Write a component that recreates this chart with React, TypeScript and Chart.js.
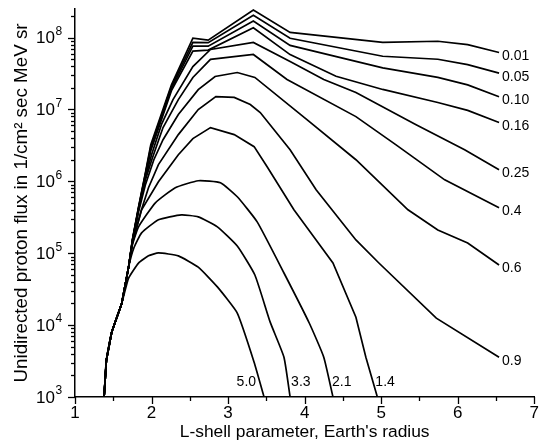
import React, { useEffect, useRef } from 'react';
import { Chart, registerables } from 'chart.js';

Chart.register(...registerables);

// L-shell values (Earth radii) and unidirected proton flux (1/cm^2 sec MeV sr) per energy curve (MeV)
const L_001 = [1.38, 1.41, 1.48, 1.61, 1.70, 1.75, 1.83, 1.92, 1.99, 2.26, 2.54, 2.74, 3.33, 3.81, 5.02, 5.74, 6.13, 6.54];
const F_001 = [1e3, 3.25e3, 8e3, 2e4, 6.4e4, 1.55e5, 4.4e5, 1.32e6, 3.24e6, 2.2e7, 9.8e7, 9.2e7, 2.42e8, 1.18e8, 8.6e7, 8.9e7, 8.0e7, 6.2e7];

const L_005 = [1.38, 1.41, 1.48, 1.61, 1.70, 1.75, 1.83, 1.92, 1.99, 2.26, 2.54, 2.74, 3.33, 3.81, 5.02, 5.74, 6.13, 6.54];
const F_005 = [1e3, 3.25e3, 8e3, 2e4, 6.4e4, 1.53e5, 4.3e5, 1.28e6, 3.04e6, 2.09e7, 8.6e7, 8.5e7, 2.04e8, 9.8e7, 5.5e7, 5.0e7, 4.2e7, 3.2e7];

const L_010 = [1.38, 1.41, 1.48, 1.61, 1.70, 1.75, 1.83, 1.92, 1.99, 2.26, 2.54, 2.74, 3.33, 3.81, 5.02, 5.74, 6.13, 6.54];
const F_010 = [1e3, 3.25e3, 8e3, 2e4, 6.4e4, 1.51e5, 4.2e5, 1.24e6, 2.85e6, 1.95e7, 7.6e7, 7.6e7, 1.70e8, 7.8e7, 3.8e7, 2.8e7, 2.2e7, 1.5e7];

const L_016 = [1.38, 1.41, 1.48, 1.61, 1.70, 1.75, 1.83, 1.92, 1.99, 2.26, 2.54, 2.74, 3.33, 3.81, 4.41, 5.02, 5.74, 6.13, 6.54];
const F_016 = [1e3, 3.25e3, 8e3, 2e4, 6.4e4, 1.49e5, 4.1e5, 1.2e6, 2.67e6, 1.83e7, 6.5e7, 6.7e7, 1.37e8, 5.8e7, 2.9e7, 1.9e7, 1.25e7, 9.7e6, 6.6e6];

const L_025 = [1.38, 1.41, 1.48, 1.61, 1.70, 1.75, 1.83, 1.92, 2.00, 2.13, 2.28, 2.54, 2.77, 3.33, 3.81, 4.25, 4.67, 5.45, 6.09, 6.54];
const F_025 = [1e3, 3.25e3, 8e3, 2e4, 6.4e4, 1.47e5, 4.15e5, 1.12e6, 2.35e6, 6.2e6, 1.37e7, 3.96e7, 6.84e7, 8.57e7, 4.66e7, 2.61e7, 1.72e7, 6.2e6, 2.76e6, 1.45e6];

const L_04 = [1.38, 1.41, 1.48, 1.61, 1.70, 1.75, 1.83, 1.92, 2.01, 2.15, 2.35, 2.54, 2.77, 3.33, 3.77, 4.67, 5.19, 5.83, 6.54];
const F_04 = [1e3, 3.25e3, 8e3, 2e4, 6.4e4, 1.45e5, 4.02e5, 1.05e6, 2.1e6, 5.6e6, 1.37e7, 2.79e7, 4.97e7, 5.83e7, 2.61e7, 7.96e6, 3.24e6, 1.05e6, 4.28e5];

const L_06 = [1.38, 1.41, 1.48, 1.61, 1.70, 1.75, 1.83, 1.92, 2.03, 2.15, 2.35, 2.61, 2.83, 3.12, 3.35, 4.03, 4.67, 5.35, 5.74, 6.13, 6.54];
const F_06 = [1e3, 3.25e3, 8e3, 2e4, 6.4e4, 1.43e5, 3.77e5, 8.98e5, 2.0e6, 3.8e6, 8.49e6, 1.89e7, 2.88e7, 3.27e7, 2.79e7, 7.23e6, 2.0e6, 4.02e5, 2.11e5, 1.39e5, 6.87e4];

const L_09 = [1.38, 1.41, 1.48, 1.61, 1.70, 1.75, 1.86, 1.96, 2.09, 2.35, 2.61, 2.84, 3.08, 3.29, 3.42, 3.81, 4.15, 4.67, 4.97, 5.72, 6.54];
const F_09 = [1e3, 3.25e3, 8e3, 2e4, 6.4e4, 1.4e5, 3.77e5, 8.15e5, 1.71e6, 4.47e6, 9.98e6, 1.51e7, 1.47e7, 1.17e7, 9.06e6, 2.76e6, 7.64e5, 1.53e5, 7.32e4, 1.25e4, 3.58e3];

const L_14 = [1.38, 1.41, 1.48, 1.61, 1.70, 1.75, 1.87, 2.09, 2.35, 2.54, 2.77, 3.08, 3.34, 3.51, 3.86, 4.15, 4.37, 4.67, 4.80, 4.95];
const F_14 = [1e3, 3.25e3, 8e3, 2e4, 6.4e4, 1.37e5, 4.02e5, 9.87e5, 2.35e6, 3.93e6, 5.6e6, 4.47e6, 3.04e6, 1.6e6, 4.02e5, 1.53e5, 7.32e4, 1.29e4, 3.58e3, 1e3];

const L_21 = [1.38, 1.41, 1.48, 1.61, 1.70, 1.75, 1.83, 2.05, 2.31, 2.61, 2.90, 3.12, 3.38, 3.73, 4.06, 4.25, 4.37];
const F_21 = [1e3, 3.25e3, 8e3, 2e4, 6.4e4, 1.31e5, 2.33e5, 5.03e5, 8.15e5, 1.02e6, 9.57e5, 6.1e5, 2.73e5, 5.31e4, 1.07e4, 3.58e3, 1e3];

const L_33 = [1.38, 1.41, 1.48, 1.61, 1.70, 1.77, 1.87, 2.09, 2.39, 2.61, 2.86, 3.12, 3.35, 3.55, 3.73, 3.81];
const F_33 = [1e3, 3.25e3, 8e3, 2e4, 6.4e4, 1.19e5, 1.92e5, 2.92e5, 3.42e5, 3.21e5, 2.33e5, 1.26e5, 4.98e4, 1.1e4, 3.58e3, 1e3];

const L_50 = [1.38, 1.41, 1.48, 1.61, 1.70, 1.83, 1.96, 2.09, 2.35, 2.61, 2.86, 3.12, 3.34, 3.47];
const F_50 = [1e3, 3.25e3, 8e3, 2e4, 4.5e4, 7.3e4, 9.2e4, 1.01e5, 9.2e4, 6.4e4, 3.4e4, 1.47e4, 3.05e3, 1e3];

const ENERGY_LABELS = ['0.01', '0.05', '0.10', '0.16', '0.25', '0.4', '0.6', '0.9', '1.4', '2.1', '3.3', '5.0'];
const X_TICKS = [1, 2, 3, 4, 5, 6, 7];
const Y_EXPONENTS = [3, 4, 5, 6, 7, 8];
const X_TITLE = "L-shell parameter, Earth's radius";
const Y_TITLE = 'Unidirected proton flux in 1/cm\u00B2 sec MeV sr';

const SERIES_L = [L_001, L_005, L_010, L_016, L_025, L_04, L_06, L_09, L_14, L_21, L_33, L_50];
const SERIES_F = [F_001, F_005, F_010, F_016, F_025, F_04, F_06, F_09, F_14, F_21, F_33, F_50];

// slightly rounded drawing for the low arcs, polylines elsewhere
const ROUNDED = ['2.1', '3.3', '5.0'];

// label placement style (relative to the last point of each curve)
const LABEL_STYLE: Record<string, { align: 'left' | 'right'; dx: number; dy: number; bottom?: boolean }> = {
  '0.01': { align: 'left', dx: 3, dy: 3.5 },
  '0.05': { align: 'left', dx: 3, dy: 3.5 },
  '0.10': { align: 'left', dx: 3, dy: 3.5 },
  '0.16': { align: 'left', dx: 3, dy: 3.5 },
  '0.25': { align: 'left', dx: 3, dy: 3.5 },
  '0.4': { align: 'left', dx: 3, dy: 3.5 },
  '0.6': { align: 'left', dx: 3, dy: 3.5 },
  '0.9': { align: 'left', dx: 3, dy: 3.5 },
  '1.4': { align: 'left', dx: -2, dy: -15, bottom: true },
  '2.1': { align: 'left', dx: -1, dy: -15, bottom: true },
  '3.3': { align: 'left', dx: 1, dy: -15, bottom: true },
  '5.0': { align: 'right', dx: -8, dy: -15, bottom: true },
};

const FONT = '"Liberation Sans", Arial, Helvetica, sans-serif';

const decorations = {
  id: 'decorations',
  afterDraw(chart: any) {
    const { ctx, chartArea, scales } = chart;
    const xs = scales.x;
    const ys = scales.y;
    ctx.save();
    ctx.strokeStyle = '#000';
    ctx.fillStyle = '#000';
    ctx.lineWidth = 1.3;
    // y ticks (major + minor) and labels
    for (const e of Y_EXPONENTS) {
      for (let m = 1; m <= 9; m++) {
        const v = m * Math.pow(10, e);
        if (v > ys.max) break;
        const py = Math.round(ys.getPixelForValue(v)) + 0.5;
        const len = m === 1 ? 7 : 4;
        ctx.beginPath();
        ctx.moveTo(chartArea.left - len, py);
        ctx.lineTo(chartArea.left, py);
        ctx.stroke();
      }
      const py = ys.getPixelForValue(Math.pow(10, e));
      ctx.font = `17px ${FONT}`;
      ctx.textAlign = 'right';
      ctx.textBaseline = 'middle';
      ctx.fillText('10', 55, py + 1);
      ctx.font = `12px ${FONT}`;
      ctx.textAlign = 'left';
      ctx.fillText(String(e), 55.5, py - 6);
    }
    // x ticks (major + minor)
    for (let v = xs.min; v <= xs.max + 1e-9; v += 0.5) {
      const px = Math.round(xs.getPixelForValue(v)) + 0.5;
      const len = Number.isInteger(v) ? 7 : 4;
      ctx.beginPath();
      ctx.moveTo(px, chartArea.bottom);
      ctx.lineTo(px, chartArea.bottom + len);
      ctx.stroke();
    }
    // curve labels
    ctx.font = `14px ${FONT}`;
    ctx.textBaseline = 'middle';
    chart.data.datasets.forEach((ds: any, i: number) => {
      const meta = chart.getDatasetMeta(i);
      const pts = meta.data;
      const last = pts[pts.length - 1];
      const st = LABEL_STYLE[ds.label];
      ctx.textAlign = st.align;
      const yy = st.bottom ? chartArea.bottom + st.dy : last.y + st.dy;
      ctx.fillText(ds.label, last.x + st.dx, yy);
    });
    ctx.restore();
  },
};

export default function App() {
  const ref = useRef<HTMLCanvasElement>(null);
  useEffect(() => {
    document.body.style.margin = '0';
    const datasets = ENERGY_LABELS.map((lab, i) => ({
      label: lab,
      data: SERIES_L[i].map((x, j) => ({ x, y: SERIES_F[i][j] })),
      borderColor: '#000',
      borderWidth: 1.7,
      pointRadius: 0,
      tension: ROUNDED.includes(lab) ? 0.15 : 0,
      fill: false,
    }));
    const chart = new Chart(ref.current as HTMLCanvasElement, {
      type: 'line',
      data: { datasets },
      options: {
        animation: false,
        responsive: false,
        devicePixelRatio: 1,
        layout: { padding: { top: 9, right: 4, left: 0, bottom: 0 } },
        plugins: { legend: { display: false }, tooltip: { enabled: false } },
        scales: {
          x: {
            type: 'linear',
            min: 1,
            max: 7,
            afterFit: (s: any) => { s.height = 47; },
            afterBuildTicks: (s: any) => { s.ticks = X_TICKS.map((v) => ({ value: v })); },
            grid: { display: false, drawTicks: false },
            border: { display: true, color: '#000', width: 1.5 },
            ticks: { color: '#000', font: { family: FONT, size: 17 }, padding: 6, maxRotation: 0, callback: (v: any) => String(v) },
            title: { display: true, text: X_TITLE, color: '#000', font: { family: FONT, size: 17.4 }, padding: { top: 0, bottom: 1 } },
          },
          y: {
            type: 'logarithmic',
            min: 1e3,
            max: 2.5e8,
            afterFit: (s: any) => { s.width = 75; },
            grid: { display: false, drawTicks: false },
            border: { display: true, color: '#000', width: 1.5 },
            ticks: { display: false },
            title: { display: true, text: Y_TITLE, color: '#000', font: { family: FONT, size: 18.8 }, padding: { top: 10.5, bottom: 0 } },
          },
        },
      },
      plugins: [decorations],
    } as any);
    return () => chart.destroy();
  }, []);
  return (
    <div style={{ width: 545, height: 444, position: 'relative' }}>
      <canvas ref={ref} width={545} height={444} style={{ display: 'block' }} />
    </div>
  );
}
